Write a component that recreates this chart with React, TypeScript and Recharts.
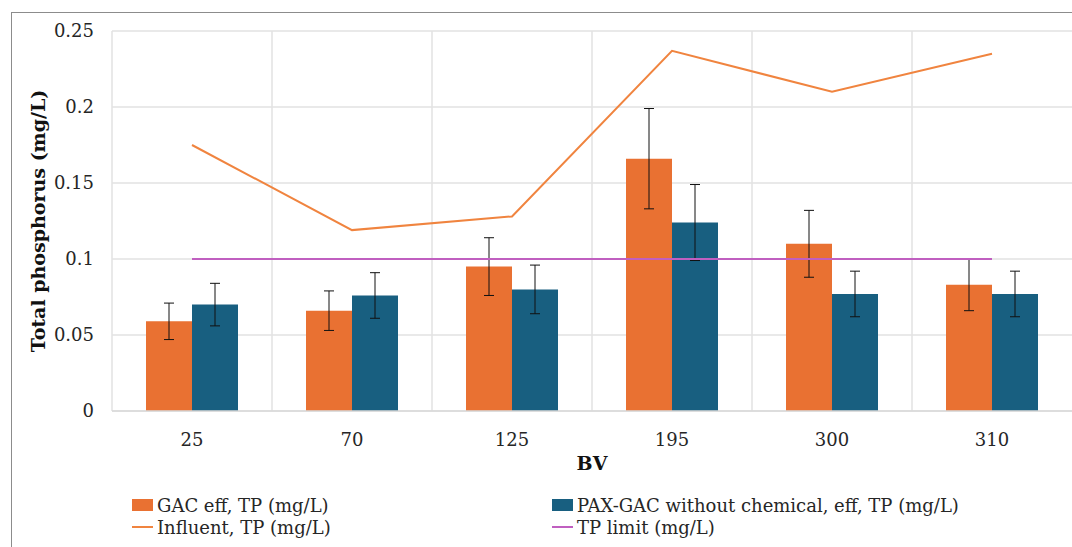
import {
  ComposedChart,
  Bar,
  Line,
  XAxis,
  YAxis,
  CartesianGrid,
  ErrorBar,
} from "recharts";

const bvLabels = ["25", "70", "125", "195", "300", "310"];
const gacEff = [0.059, 0.066, 0.095, 0.166, 0.11, 0.083];
const gacErr = [0.012, 0.013, 0.019, 0.033, 0.022, 0.017];
const paxEff = [0.07, 0.076, 0.08, 0.124, 0.077, 0.077];
const paxErr = [0.014, 0.015, 0.016, 0.025, 0.015, 0.015];
const influent = [0.175, 0.119, 0.128, 0.237, 0.21, 0.235];
const tpLimit = [0.1, 0.1, 0.1, 0.1, 0.1, 0.1];
const yTicks = [0, 0.05, 0.1, 0.15, 0.2, 0.25];

const data = bvLabels.map((bv, i) => ({
  bv,
  gac: gacEff[i],
  gacErr: gacErr[i],
  pax: paxEff[i],
  paxErr: paxErr[i],
  influent: influent[i],
  limit: tpLimit[i],
}));

const ORANGE = "#E97132";
const BLUE = "#185F80";
const INFLUENT = "#F0843F";
const LIMIT = "#C05FC0";
const FONT = "'DejaVu Serif', serif";

const legendItems = [
  { label: "GAC eff, TP (mg/L)", color: ORANGE, kind: "box", left: 132, top: 495 },
  { label: "PAX-GAC without chemical, eff, TP (mg/L)", color: BLUE, kind: "box", left: 552, top: 495 },
  { label: "Influent, TP (mg/L)", color: INFLUENT, kind: "line", left: 132, top: 517 },
  { label: "TP limit (mg/L)", color: LIMIT, kind: "line", left: 552, top: 517 },
];

export default function App() {
  return (
    <div
      style={{
        position: "absolute",
        left: 0,
        top: 0,
        width: 1072,
        height: 547,
        overflow: "hidden",
        background: "#fff",
        fontFamily: FONT,
      }}
    >
      <div
        style={{
          position: "absolute",
          left: 11,
          top: 12,
          width: 1200,
          height: 700,
          border: "1px solid #8c8c8c",
        }}
      />
      <div style={{ position: "absolute", left: 0, top: 0 }}>
        <ComposedChart
          width={1072}
          height={547}
          data={data}
          margin={{ top: 31, right: 0, bottom: 0, left: 0 }}
          barSize={46}
          barGap={0}
        >
          <CartesianGrid
            stroke="#e2e2e2"
            strokeWidth={1.5}
            verticalCoordinatesGenerator={({ offset }: any) =>
              bvLabels.map((_, i) => offset.left + (i * offset.width) / bvLabels.length)
            }
          />
          <XAxis
            dataKey="bv"
            tickSize={0}
            tickMargin={22}
            axisLine={{ stroke: "#d9d9d9", strokeWidth: 1.5 }}
            tick={{ fill: "#262626", fontSize: 18, fontFamily: FONT }}
            height={136}
            label={{
              content: ({ viewBox }: any) => (
                <text
                  x={viewBox.x + viewBox.width / 2}
                  y={viewBox.y + 59}
                  textAnchor="middle"
                  fontFamily={FONT}
                  fontWeight="bold"
                  fontSize={19}
                  fill="#111"
                >
                  BV
                </text>
              ),
            }}
          />
          <YAxis
            width={112}
            domain={[0, 0.25]}
            ticks={yTicks}
            tickSize={0}
            tickMargin={18}
            axisLine={false}
            tick={{ fill: "#262626", fontSize: 18, fontFamily: FONT }}
            label={{
              content: ({ viewBox }: any) => {
                const cx = viewBox.x + 38;
                const cy = viewBox.y + viewBox.height / 2;
                return (
                  <text
                    x={cx}
                    y={cy}
                    transform={`rotate(-90 ${cx} ${cy})`}
                    textAnchor="middle"
                    dominantBaseline="central"
                    fontFamily={FONT}
                    fontWeight="bold"
                    fontSize={19}
                    fill="#111"
                  >
                    Total phosphorus (mg/L)
                  </text>
                );
              },
            }}
          />
          <Bar dataKey="gac" fill={ORANGE} isAnimationActive={false}>
            <ErrorBar dataKey="gacErr" width={5} stroke="#111" strokeWidth={1} isAnimationActive={false} />
          </Bar>
          <Bar dataKey="pax" fill={BLUE} isAnimationActive={false}>
            <ErrorBar dataKey="paxErr" width={5} stroke="#111" strokeWidth={1} isAnimationActive={false} />
          </Bar>
          <Line
            dataKey="influent"
            stroke={INFLUENT}
            strokeWidth={2}
            dot={false}
            type="linear"
            isAnimationActive={false}
          />
          <Line
            dataKey="limit"
            stroke={LIMIT}
            strokeWidth={2}
            dot={false}
            type="linear"
            isAnimationActive={false}
          />
        </ComposedChart>
      </div>
      {legendItems.map((item) => (
        <div
          key={item.label}
          style={{
            position: "absolute",
            left: item.left,
            top: item.top,
            height: 20,
            display: "flex",
            alignItems: "center",
            fontSize: 18,
            color: "#262626",
            whiteSpace: "nowrap",
          }}
        >
          <span
            style={{
              display: "inline-block",
              width: 21,
              height: item.kind === "box" ? 12 : 2,
              background: item.color,
              marginRight: 4,
            }}
          />
          {item.label}
        </div>
      ))}
    </div>
  );
}
